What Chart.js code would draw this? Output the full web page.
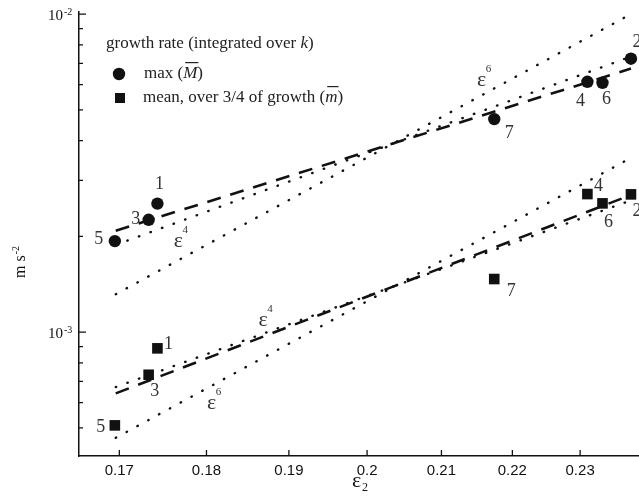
<!DOCTYPE html>
<html>
<head>
<meta charset="utf-8">
<script src="https://cdn.jsdelivr.net/npm/chart.js@4.4.1/dist/chart.umd.min.js"></script>
<style>
  html, body { margin: 0; padding: 0; background: #fff; overflow: hidden; }
  canvas { display: block; }
</style>
</head>
<body>
<canvas id="chart" width="660" height="501"></canvas>
<script>
// runs and measured growth rates (m s^-2) against eps_2
let runs = ['1', '2', '3', '4', '5', '6', '7'];
let eps2 = [0.1743, 0.2378, 0.1733, 0.2311, 0.1695, 0.2334, 0.2174];
let maxRate = [2.535e-3, 7.236e-3, 2.254e-3, 6.124e-3, 1.932e-3, 6.08e-3, 4.674e-3];
let meanRate = [8.887e-4, 2.71e-3, 7.34e-4, 2.716e-3, 5.088e-4, 2.539e-3, 1.468e-3];

// fit and reference lines, given by their two end points
let lineEps = [0.1696, 0.2378];
let maxFit = [2.083e-3, 6.737e-3];
let maxEps4 = [1.88e-3, 7.35e-3];
let maxEps6 = [1.315e-3, 1.0e-2];
let meanFit = [6.414e-4, 2.698e-3];
let meanEps4 = [6.714e-4, 2.595e-3];
let meanEps6 = [4.65e-4, 3.53e-3];

// where the power law labels sit (data coords)
let powerLabels = [
  {x: 0.1767, y: 1.932e-3, p: '4'},
  {x: 0.2156, y: 6.2e-3, p: '6'},
  {x: 0.1868, y: 1.091e-3, p: '4'},
  {x: 0.1806, y: 5.97e-4, p: '6'}
];

let xTicks = [0.17, 0.18, 0.19, 0.2, 0.21, 0.22, 0.23];
let yMajorTicks = [1e-3, 1e-2];
let yMinorTicks = [5e-4, 6e-4, 7e-4, 8e-4, 9e-4, 2e-3, 3e-3, 4e-3, 5e-3, 6e-3, 7e-3, 8e-3, 9e-3];

// label offsets from the marker, px
let maxLabelOffsets = [[2, -19], [6, -16], [-13, -1], [-7, 19], [-16, -2], [4, 16], [15, 14]];
let meanLabelOffsets = [[11, -4], [6, 17], [6, 17], [11, -8], [-14, 2], [6, 19], [17, 12]];

let serif = '"Liberation Serif", "Times New Roman", serif';
let sans = '"Liberation Sans", Arial, sans-serif';

let pts = function(xs, ys) {
  return xs.map((x, i) => ({x: x, y: ys[i]}));
};

let lineSet = function(ys, dash) {
  let dotted = dash[0] < 1;
  return {
    data: pts(lineEps, ys),
    showLine: true,
    pointRadius: 0,
    borderColor: '#111',
    borderWidth: dotted ? 2.4 : 2.6,
    borderDash: dash,
    borderCapStyle: dotted ? 'round' : 'butt',
    order: 2
  };
};

// draws a run of text pieces left to right, returns the end x
let drawRun = function(ctx, parts, x, y) {
  parts.forEach(p => {
    ctx.font = p.font;
    let w = ctx.measureText(p.t).width;
    ctx.fillText(p.t, x, y + (p.dy || 0));
    if (p.bar) {
      ctx.fillRect(x + 2, y - 12, w - 1, 1.2);
    }
    x += w;
  });
  return x;
};

let decorations = {
  id: 'decorations',
  afterDraw(chart) {
    let ctx = chart.ctx;
    let xs = chart.scales.x;
    let ys = chart.scales.y;
    let area = chart.chartArea;
    ctx.save();
    ctx.fillStyle = '#111';
    ctx.strokeStyle = '#111';
    ctx.lineWidth = 1.3;

    // inward tick marks
    ctx.beginPath();
    xTicks.forEach(v => {
      let px = xs.getPixelForValue(v);
      ctx.moveTo(px, area.bottom);
      ctx.lineTo(px, area.bottom - 6);
    });
    yMajorTicks.forEach(v => {
      let py = ys.getPixelForValue(v);
      ctx.moveTo(area.left, py);
      ctx.lineTo(area.left + 7, py);
    });
    yMinorTicks.forEach(v => {
      let py = ys.getPixelForValue(v);
      ctx.moveTo(area.left, py);
      ctx.lineTo(area.left + 4, py);
    });
    ctx.stroke();

    // x tick labels
    ctx.font = '15px ' + sans;
    ctx.textAlign = 'center';
    ctx.textBaseline = 'middle';
    xTicks.forEach(v => {
      ctx.fillText(String(v), xs.getPixelForValue(v), area.bottom + 15);
    });

    // y tick labels 10^n
    ctx.textAlign = 'right';
    yMajorTicks.forEach(v => {
      let py = ys.getPixelForValue(v);
      ctx.font = '15px ' + serif;
      ctx.fillText('10', area.left - 16, py + 2);
      ctx.textAlign = 'left';
      ctx.font = '10px ' + serif;
      ctx.fillText('-' + Math.round(-Math.log10(v)), area.left - 15, py - 2);
      ctx.textAlign = 'right';
    });

    // axis titles
    ctx.textAlign = 'left';
    ctx.font = '22px ' + serif;
    ctx.fillText('\u03b5', area.left + 273, area.bottom + 25);
    ctx.font = '12px ' + serif;
    ctx.fillText('2', area.left + 283, area.bottom + 32);

    ctx.save();
    ctx.translate(21, 278);
    ctx.rotate(-Math.PI / 2);
    let ex = drawRun(ctx, [{t: 'm s', font: '16px ' + serif}], 0, 0);
    drawRun(ctx, [{t: '-2', font: '10px ' + serif, dy: -5}], ex + 1, 0);
    ctx.restore();

    // legend
    ctx.fillStyle = '#222';
    drawRun(ctx, [
      {t: 'growth rate (integrated over ', font: '17px ' + serif},
      {t: 'k', font: 'italic 17px ' + serif},
      {t: ')', font: '17px ' + serif}
    ], 106, 44);
    drawRun(ctx, [
      {t: 'max (', font: '17px ' + serif},
      {t: 'M', font: 'italic 17px ' + serif, bar: true},
      {t: ')', font: '17px ' + serif}
    ], 144, 74);
    drawRun(ctx, [
      {t: 'mean, over 3/4 of growth (', font: '17px ' + serif},
      {t: 'm', font: 'italic 17px ' + serif, bar: true},
      {t: ')', font: '17px ' + serif}
    ], 143, 98);
    ctx.fillStyle = '#111';
    ctx.beginPath();
    ctx.arc(119, 74, 6.2, 0, Math.PI * 2);
    ctx.fill();
    ctx.fillRect(115, 93, 10, 10);

    // run numbers next to the markers
    ctx.fillStyle = '#333';
    ctx.font = '18px ' + serif;
    ctx.textAlign = 'center';
    chart.getDatasetMeta(0).data.forEach((pt, i) => {
      let off = maxLabelOffsets[i];
      ctx.fillText(runs[i], pt.x + off[0], pt.y + off[1]);
    });
    chart.getDatasetMeta(1).data.forEach((pt, i) => {
      let off = meanLabelOffsets[i];
      ctx.fillText(runs[i], pt.x + off[0], pt.y + off[1]);
    });

    // eps^4 / eps^6 labels
    powerLabels.forEach(l => {
      let px = xs.getPixelForValue(l.x);
      let py = ys.getPixelForValue(l.y);
      ctx.font = '22px ' + serif;
      ctx.fillText('\u03b5', px, py);
      ctx.font = '11px ' + serif;
      ctx.fillText(l.p, px + 7, py - 11);
    });
    ctx.restore();
  }
};

let ctx = document.getElementById('chart').getContext('2d');
let chart = new Chart(ctx, {
  type: 'scatter',
  data: {
    datasets: [{
      data: pts(eps2, maxRate),
      pointStyle: 'circle',
      pointRadius: 6.2,
      backgroundColor: '#111',
      borderWidth: 0,
      order: 1
    }, {
      data: pts(eps2, meanRate),
      pointStyle: 'rect',
      pointRadius: 7.5,
      backgroundColor: '#111',
      borderWidth: 0,
      order: 1
    },
      lineSet(maxFit, [14, 10]),
      lineSet(maxEps4, [0.5, 11.8]),
      lineSet(maxEps6, [0.5, 11.8]),
      lineSet(meanFit, [14, 10]),
      lineSet(meanEps4, [0.5, 11.8]),
      lineSet(meanEps6, [0.5, 11.8])
    ]
  },
  options: {
    responsive: false,
    animation: false,
    layout: {padding: {left: 79, top: 12, right: 15, bottom: 45}},
    plugins: {legend: {display: false}, tooltip: {enabled: false}},
    scales: {
      x: {
        type: 'logarithmic',
        min: 0.16556,
        max: 0.24,
        grid: {display: false, drawTicks: false},
        ticks: {display: false},
        border: {display: true, color: '#111', width: 1.5}
      },
      y: {
        type: 'logarithmic',
        min: 4.076e-4,
        max: 1.015e-2,
        grid: {display: false, drawTicks: false},
        ticks: {display: false},
        border: {display: true, color: '#111', width: 1.5}
      }
    }
  },
  plugins: [decorations]
});
</script>
</body>
</html>
